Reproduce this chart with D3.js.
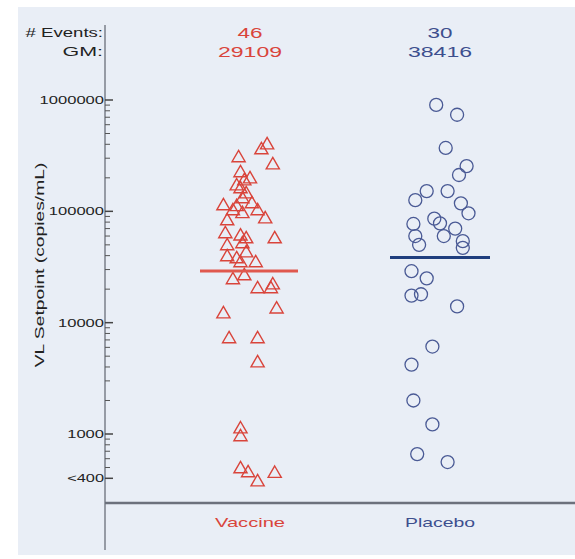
<!DOCTYPE html>
<html>
<head>
<meta charset="utf-8">
<script src="https://cdn.jsdelivr.net/npm/d3@7"></script>
<style>
  body { margin: 0; background: #fff; }
  svg { display: block; font-family: "Liberation Sans", Arial, sans-serif; }
</style>
</head>
<body>
<div id="chart"></div>
<script>
// groups and summary numbers
var groups = ["Vaccine", "Placebo"];
var events = [46, 30];
var gm = [29109, 38416];

// VL setpoint values (copies/mL)
var vaccineValues = [
  402000, 363000, 266000, 308000, 226000, 191000, 162000, 146000, 132000, 114000,
  112000, 119000, 103000, 87000, 97000, 64000, 61000, 57600, 57600, 49900,
  52000, 43100, 39700, 38100, 35100, 24700, 20500, 22200, 20500, 12200,
  13500, 7300, 7300, 4430, 1130, 960, 495, 456, 378, 450,
  172000, 199000, 103000, 35100, 26800, 83600
];
// jitter in category units (0 = group centre)
var vaccineJitter = [
  0.09, 0.06, 0.12, -0.06, -0.05, -0.03, -0.05, -0.02, -0.04, -0.14,
  -0.07, 0.01, 0.04, 0.08, -0.04, -0.13, -0.05, -0.02, 0.13, -0.12,
  -0.04, -0.02, -0.12, -0.07, -0.05, -0.09, 0.04, 0.12, 0.11, -0.14,
  0.14, -0.11, 0.04, 0.04, -0.05, -0.05, -0.05, -0.01, 0.04, 0.13,
  -0.07, 0.0, -0.09, 0.03, -0.03, -0.12
];

var placeboValues = [
  904000, 737000, 371000, 255000, 212000, 152000, 126000, 152000, 118000, 96000,
  86000, 78000, 77000, 60000, 60000, 54000, 47000, 29000, 25000, 17500,
  18000, 14000, 6100, 4200, 2000, 1220, 660, 560, 70000, 50000
];
var placeboJitter = [
  -0.02, 0.09, 0.03, 0.14, 0.10, -0.07, -0.13, 0.04, 0.11, 0.15,
  -0.03, 0.0, -0.14, -0.13, 0.02, 0.12, 0.12, -0.15, -0.07, -0.15,
  -0.10, 0.09, -0.04, -0.15, -0.14, -0.04, -0.12, 0.04, 0.08, -0.11
];

var yTicks = [1000000, 100000, 10000, 1000, 400];
var yTickLabels = ["1000000", "100000", "10000", "1000", "<400"];

var W = 575, H = 559;
var red = "#d9443b", blue = "#3d4f8e";

var svg = d3.select("#chart").append("svg")
  .attr("width", W).attr("height", H);

svg.append("rect")
  .attr("x", 18).attr("y", 7).attr("width", W - 18).attr("height", 548)
  .attr("fill", "#e9eef6");

var y = d3.scaleLog()
  .domain([1000, 1000000])
  .range([434, 100]);

var x = d3.scaleLinear()
  .domain([0.5, 2.5])
  .range([155, 535]);

var axisX = 105;

// the source picture is stretched sideways, so text gets a fixed width
function wideText(sel, str, perChar) {
  return sel.text(str)
    .attr("textLength", str.length * perChar)
    .attr("lengthAdjust", "spacingAndGlyphs");
}

// y axis line
svg.append("line")
  .attr("x1", axisX).attr("x2", axisX)
  .attr("y1", 25).attr("y2", 550)
  .attr("stroke", "#7a7f8a").attr("stroke-width", 1.5);

// baseline
svg.append("line")
  .attr("x1", axisX).attr("x2", W)
  .attr("y1", 503).attr("y2", 503)
  .attr("stroke", "#6c717c").attr("stroke-width", 2.5);

// minor ticks
var minor = [];
[1000, 10000, 100000].forEach(function (d) {
  for (var k = 2; k <= 9; k++) minor.push(d * k);
});
[500, 600, 700, 800, 900].forEach(function (d) { minor.push(d); });

svg.append("g").selectAll("line").data(minor)
  .enter().append("line")
  .attr("x1", axisX).attr("x2", axisX + 5)
  .attr("y1", function (d) { return y(d); })
  .attr("y2", function (d) { return y(d); })
  .attr("stroke", "#555").attr("stroke-width", 1);

svg.append("g").selectAll("line").data(yTicks)
  .enter().append("line")
  .attr("x1", axisX).attr("x2", axisX + 8)
  .attr("y1", function (d) { return y(d); })
  .attr("y2", function (d) { return y(d); })
  .attr("stroke", "#444").attr("stroke-width", 1.5);

svg.append("g").selectAll("text").data(yTicks)
  .enter().append("text")
  .attr("x", axisX - 1)
  .attr("y", function (d) { return y(d) + 4; })
  .attr("text-anchor", "end")
  .attr("font-size", 11)
  .attr("fill", "#222")
  .each(function (d, i) { wideText(d3.select(this), yTickLabels[i], 9.2); });

// axis title
wideText(svg.append("text")
  .attr("transform", "translate(44,265) rotate(-90)")
  .attr("text-anchor", "middle")
  .attr("font-size", 12)
  .attr("fill", "#222"), "VL Setpoint (copies/mL)", 8.9);

// header labels
wideText(svg.append("text").attr("x", axisX - 2).attr("y", 37)
  .attr("text-anchor", "end").attr("font-size", 12).attr("fill", "#222"),
  "# Events:", 8.6);
wideText(svg.append("text").attr("x", axisX - 2).attr("y", 56)
  .attr("text-anchor", "end").attr("font-size", 12).attr("fill", "#222"),
  "GM:", 13.5);

var cols = [red, blue];
groups.forEach(function (g, i) {
  wideText(svg.append("text").attr("x", x(i + 1)).attr("y", 38)
    .attr("text-anchor", "middle").attr("font-size", 14).attr("fill", cols[i]),
    String(events[i]), 12.5);
  wideText(svg.append("text").attr("x", x(i + 1)).attr("y", 57)
    .attr("text-anchor", "middle").attr("font-size", 14).attr("fill", cols[i]),
    String(gm[i]), 12.8);
  wideText(svg.append("text").attr("x", x(i + 1)).attr("y", 527)
    .attr("text-anchor", "middle").attr("font-size", 13).attr("fill", cols[i]),
    g, 10);
});

// vaccine triangles
var tri = d3.symbol().type(d3.symbolTriangle).size(75);
svg.append("g").selectAll("path").data(vaccineValues)
  .enter().append("path")
  .attr("d", tri)
  .attr("transform", function (d, i) {
    return "translate(" + x(1 + vaccineJitter[i]) + "," + (y(d) + 1) + ")";
  })
  .attr("fill", "none")
  .attr("stroke", red)
  .attr("stroke-width", 1.4);

// placebo circles
svg.append("g").selectAll("circle").data(placeboValues)
  .enter().append("circle")
  .attr("cx", function (d, i) { return x(2 + placeboJitter[i]); })
  .attr("cy", function (d) { return y(d); })
  .attr("r", 6.5)
  .attr("fill", "none")
  .attr("stroke", "#4a5a95")
  .attr("stroke-width", 1.3);

// GM lines
svg.append("line")
  .attr("x1", x(1) - 50).attr("x2", x(1) + 48)
  .attr("y1", y(gm[0])).attr("y2", y(gm[0]))
  .attr("stroke", "#e0584e").attr("stroke-width", 3);
svg.append("line")
  .attr("x1", x(2) - 50).attr("x2", x(2) + 50)
  .attr("y1", y(gm[1])).attr("y2", y(gm[1]))
  .attr("stroke", "#1f3e7e").attr("stroke-width", 3);
</script>
</body>
</html>
